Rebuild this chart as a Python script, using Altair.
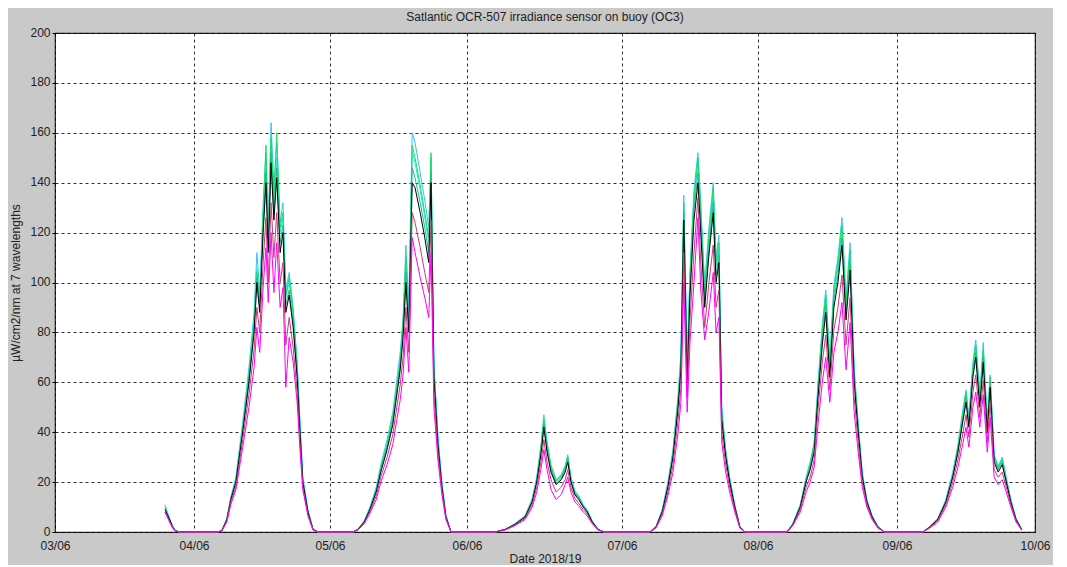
import altair as alt
import pandas as pd

TITLE = "Satlantic OCR-507 irradiance sensor on buoy (OC3)"
Y_TITLE = "µW/cm2/nm at 7 wavelengths"
X_TITLE = "Date 2018/19"

x_tick_labels = ["03/06", "04/06", "05/06", "06/06", "07/06", "08/06", "09/06", "10/06"]
y_ticks = [0, 20, 40, 60, 80, 100, 120, 140, 160, 180, 200]

# time of each sample, hours since 03/06 00:00
hours = [
    19.0, 19.4, 19.8, 20.3, 20.8, 21.5,
    28.1, 28.9, 29.8, 30.5, 31.4, 32.6, 33.7, 34.6, 35.1, 35.6, 36.2, 36.7, 37.1, 37.6, 38.1, 38.6, 39.2, 39.7, 40.2, 40.8, 41.5, 42.2, 42.7, 43.2, 44.1, 45.0, 45.9,
    52.0, 52.9, 54.0, 55.0, 56.1, 56.9, 58.0, 59.0, 59.7, 60.3, 60.8, 61.3, 61.8, 62.4, 62.9, 63.8, 64.6, 65.3, 65.7, 66.2, 66.9, 67.6, 68.3, 69.2,
    76.3, 77.9, 79.4, 81.0, 82.1, 82.8, 83.5, 83.9, 84.4, 85.0, 85.8, 86.6, 87.2, 87.6, 88.1, 88.7, 89.3, 90.0, 90.6, 91.4, 92.3, 93.2,
    100.9, 102.0, 103.1, 104.1, 105.0, 105.9, 106.4, 106.9, 107.5, 108.0, 108.7, 109.4, 109.9, 110.6, 111.3, 112.1, 112.6, 113.1, 113.6, 114.3, 115.0, 115.9, 116.8, 117.7,
    125.0, 126.0, 127.3, 128.3, 129.0, 129.7, 130.4, 131.1, 131.7, 132.4, 133.1, 133.8, 134.5, 135.2, 135.9, 136.6, 137.3, 138.0, 138.8, 139.7, 140.7, 141.8,
    148.5, 149.7, 151.1, 152.5, 153.7, 154.6, 155.5, 156.0, 156.5, 157.2, 157.7, 158.4, 159.0, 159.7, 160.2, 160.9, 161.6, 162.3, 163.0, 163.8, 164.7, 165.7,
]

ch1 = [
    11, 8, 5, 2.5, 0.6, 0,
    0, 0.6, 5.5, 14, 22, 44, 66, 88, 112, 96, 132, 152, 122, 164, 138, 156, 124, 132, 97, 104, 90, 68, 44, 22, 9, 1.2, 0,
    0, 1.2, 4.5, 10, 18, 27, 37, 48, 61, 72, 86, 115, 90, 160, 156, 144, 133, 122, 150, 68, 39, 20, 7, 0,
    0, 1.1, 3.3, 6.6, 13.5, 22, 36, 47, 36, 27, 21, 23, 26.5, 31, 22, 16.5, 14.5, 11, 9, 4.4, 1.1, 0,
    0, 2.2, 9, 20, 33, 55, 72, 135, 68, 105, 137, 152, 132, 99, 121, 140, 110, 119, 50, 33, 22, 11, 2.2, 0,
    0, 3.3, 11, 22, 28, 36, 61, 83, 97, 69, 99, 110, 126, 94, 116, 66, 44, 24, 13, 6.6, 2.2, 0,
    0, 2.2, 5.5, 13, 24, 35, 50, 57, 46, 68, 77, 55, 76, 44, 63, 31, 26.5, 30, 22, 13, 5.5, 1.1,
]
ch2 = [
    10, 8, 5, 2.5, 0.5, 0,
    0, 0.5, 5, 13.5, 21, 43, 64, 85, 106, 93, 126, 148, 118, 156, 132, 150, 120, 126, 94, 100, 87, 66, 43, 21, 8.5, 1.1, 0,
    0, 1.1, 4.3, 9.6, 17, 26, 35, 46, 58, 69, 83, 108, 86, 152, 148, 137, 126, 116, 146, 66, 37, 19, 6.5, 0,
    0, 1, 3.2, 6.4, 13, 21, 34, 44, 34, 26, 20, 22, 25.5, 29.5, 21, 16, 14, 10.5, 8.6, 4.2, 1, 0,
    0, 2.1, 8.6, 19, 32, 53, 69, 130, 65, 101, 132, 148, 127, 95, 116, 135, 106, 114, 48, 32, 21, 10.5, 2.1, 0,
    0, 3.2, 10.6, 21, 27, 34, 58, 80, 93, 66, 95, 106, 121, 90, 111, 63, 42, 23, 12.6, 6.4, 2.1, 0,
    0, 2.1, 5.3, 12.6, 23, 34, 47, 55, 44, 65, 74, 53, 72, 42, 61, 30, 25.5, 29, 21, 12.6, 5.3, 1,
]
ch3 = [
    10, 7, 5, 2, 0.5, 0,
    0, 0.5, 5, 13.5, 21, 42, 63, 84, 104, 92, 127, 155, 120, 158, 134, 160, 122, 128, 95, 102, 88, 67, 43, 21, 8.5, 1.1, 0,
    0, 1.1, 4.2, 9.5, 17, 25.5, 35, 46, 58, 69, 84, 110, 88, 155, 150, 139, 128, 118, 152, 66, 37, 19, 6.5, 0,
    0, 1, 3.1, 6.3, 12.8, 21, 35, 45, 35, 26, 20.5, 22.5, 26, 30, 21.5, 16, 14, 10.5, 8.5, 4.2, 1, 0,
    0, 2.1, 8.5, 19, 32, 53, 69, 132, 66, 102, 134, 150, 129, 96, 118, 138, 108, 116, 48, 32, 21, 10.5, 2.1, 0,
    0, 3.1, 10.5, 21, 27, 35, 59, 81, 95, 67, 97, 108, 123, 92, 113, 64, 42, 23, 12.5, 6.3, 2.1, 0,
    0, 2.1, 5.2, 12.5, 23, 34, 48, 56, 45, 66, 75, 54, 73, 43, 62, 30, 26, 29, 21, 12.5, 5.2, 1,
]
ch4 = [
    9, 7, 5, 2, 0.5, 0,
    0, 0.5, 5, 13, 20, 41, 61, 82, 102, 90, 122, 144, 114, 152, 128, 146, 116, 123, 91, 97, 84, 64, 41, 20, 8, 1, 0,
    0, 1, 4.1, 9.2, 16.5, 25, 34, 44, 56, 67, 80, 104, 83, 146, 142, 132, 122, 112, 144, 64, 36, 18.5, 6.2, 0,
    0, 1, 3, 6.1, 12.4, 20.5, 33, 43, 33, 25, 19.5, 21.5, 25, 29, 20.5, 15.5, 13.5, 10.2, 8.2, 4.1, 1, 0,
    0, 2, 8.2, 18.5, 31, 51, 67, 128, 63, 98, 129, 144, 124, 93, 113, 132, 103, 111, 46, 31, 20.5, 10.2, 2, 0,
    0, 3, 10.2, 20.5, 26, 33, 57, 77, 91, 64, 93, 103, 118, 88, 108, 62, 41, 22.5, 12.2, 6.1, 2, 0,
    0, 2, 5.1, 12.2, 22.5, 33, 46, 54, 43, 64, 72, 52, 70, 41, 60, 29, 25, 28, 20.5, 12.2, 5.1, 1,
]
ch5 = [
    9, 7, 5, 2, 0.5, 0,
    0, 0.5, 5, 13, 20, 40, 60, 80, 100, 88, 120, 140, 112, 148, 125, 142, 112, 120, 88, 95, 82, 62, 40, 20, 8, 1, 0,
    0, 1, 4, 9, 16, 24, 33, 43, 55, 65, 78, 100, 80, 140, 138, 128, 118, 108, 140, 62, 35, 18, 6, 0,
    0, 1, 3, 6, 12, 20, 32, 42, 32, 24, 19, 21, 24, 28, 20, 15, 13, 10, 8, 4, 1, 0,
    0, 2, 8, 18, 30, 50, 65, 125, 60, 95, 125, 140, 120, 90, 110, 128, 100, 108, 45, 30, 20, 10, 2, 0,
    0, 3, 10, 20, 25, 32, 55, 75, 88, 62, 90, 100, 115, 85, 105, 60, 40, 22, 12, 6, 2, 0,
    0, 2, 5, 12, 22, 32, 45, 52, 42, 62, 70, 50, 68, 40, 58, 28, 24, 27, 20, 12, 5, 1,
]
ch6 = [
    8, 6, 4, 2, 0.4, 0,
    0, 0.4, 4.5, 12, 18, 37, 55, 73, 90, 80, 108, 126, 100, 132, 110, 128, 100, 108, 75, 86, 74, 56, 36, 18, 7, 0.9, 0,
    0, 0.9, 3.6, 8.2, 14.5, 22, 30, 39, 50, 59, 70, 90, 72, 128, 124, 114, 104, 96, 125, 56, 32, 16.5, 5.5, 0,
    0, 0.9, 2.7, 5.4, 11, 18, 29, 37, 28, 21, 16, 18, 21, 25, 18, 13.5, 11.5, 9, 7.2, 3.6, 0.9, 0,
    0, 1.8, 7.2, 16, 27, 45, 58, 112, 54, 85, 112, 134, 108, 82, 99, 115, 90, 97, 40, 27, 18, 9, 1.8, 0,
    0, 2.7, 9, 18, 22, 29, 50, 68, 79, 57, 81, 90, 103, 75, 94, 54, 36, 20, 11, 5.4, 1.8, 0,
    0, 1.8, 4.5, 11, 20, 29, 40, 47, 38, 56, 63, 46, 61, 36, 52, 25, 22, 24, 18, 11, 4.5, 0.9,
]
ch7 = [
    8, 6, 4, 1.5, 0.3, 0,
    0, 0.3, 4, 11, 17, 34, 50, 66, 82, 72, 98, 114, 92, 120, 96, 116, 90, 98, 58, 78, 68, 52, 33, 17, 6.5, 0.8, 0,
    0, 0.8, 3.3, 7.5, 13, 20, 27, 35, 45, 53, 63, 82, 64, 118, 112, 102, 94, 86, 112, 50, 29, 15, 5, 0,
    0, 0.8, 2.5, 5, 10, 16, 26, 33, 25, 17, 13, 15, 19, 22, 16, 12, 10.5, 8, 6.5, 3.3, 0.8, 0,
    0, 1.6, 6.5, 14.5, 24, 40, 52, 100, 48, 76, 100, 126, 97, 77, 88, 104, 80, 86, 36, 24, 16, 8, 1.6, 0,
    0, 2.5, 8, 16, 20, 26, 44, 60, 70, 52, 72, 80, 92, 65, 84, 48, 32, 18, 10, 5, 1.6, 0,
    0, 1.6, 4, 10, 18, 26, 36, 42, 34, 50, 56, 42, 55, 32, 46, 22, 19, 21, 16, 10, 4, 0.8,
]

series = [ch1, ch2, ch3, ch4, ch5, ch6, ch7]
colors = ["#33c4f5", "#22e8e0", "#14e060", "#24b88e", "#000000", "#c83a78", "#ff00ff"]

FONT = "Liberation Sans"
TEXT = "#222222"

label_expr = "[" + ",".join("'%s'" % s for s in x_tick_labels) + "][round(datum.value)]"

x_scale = alt.Scale(domain=[0, 1, 2, 3, 4, 5, 6, 7],
                    range=[0, 139, 275, 412, 567, 703, 842, 980])
y_scale = alt.Scale(domain=[0, 200], nice=False, zero=True)

x_axis = alt.Axis(values=list(range(8)), labelExpr=label_expr, title=X_TITLE,
                  grid=True, gridColor="#000000", gridOpacity=0.8, gridDash=[3, 3],
                  domain=False, ticks=False, labelFont=FONT, labelFontSize=12,
                  labelColor=TEXT, labelPadding=8, labelFlush=False,
                  titleFont=FONT, titleFontSize=12, titleFontWeight="normal",
                  titleColor=TEXT, titlePadding=2)
y_axis = alt.Axis(values=y_ticks, title=Y_TITLE, grid=True, gridColor="#000000",
                  gridOpacity=0.8, gridDash=[3, 3], domain=False, ticks=True,
                  tickSize=3, tickColor="#000000", labelFont=FONT, labelFontSize=12,
                  labelColor=TEXT, labelPadding=2, labelOffset=-1, titleFont=FONT,
                  titleFontSize=12, titleFontWeight="normal", titleColor=TEXT,
                  titlePadding=7)

frames = []
for i, vals in enumerate(series):
    frames.append(pd.DataFrame({"day": [h / 24 for h in hours], "value": vals,
                                "channel": "ch%d" % (i + 1)}))
data = pd.concat(frames, ignore_index=True)

base = alt.Chart(data).encode(
    x=alt.X("day:Q", scale=x_scale, axis=x_axis),
    y=alt.Y("value:Q", scale=y_scale, axis=y_axis),
)

layers = []
for i, col in enumerate(colors):
    name = "ch%d" % (i + 1)
    layers.append(
        base.transform_filter(alt.datum.channel == name)
        .mark_line(color=col, strokeWidth=1, interpolate="linear")
    )

chart = alt.layer(*layers).properties(
    width=980,
    height=499,
    title=alt.TitleParams(TITLE, font=FONT, fontSize=12, fontWeight="normal",
                          color=TEXT, anchor="middle", offset=2),
    background="#c9c9c9",
    autosize=alt.AutoSizeParams(type="none"),
    padding={"left": 47, "top": 25, "right": 18, "bottom": 33},
).configure_view(fill="#ffffff", stroke="#222222", strokeWidth=1.2)

chart.save("out.html", embed_options={"renderer": "svg", "actions": False})
